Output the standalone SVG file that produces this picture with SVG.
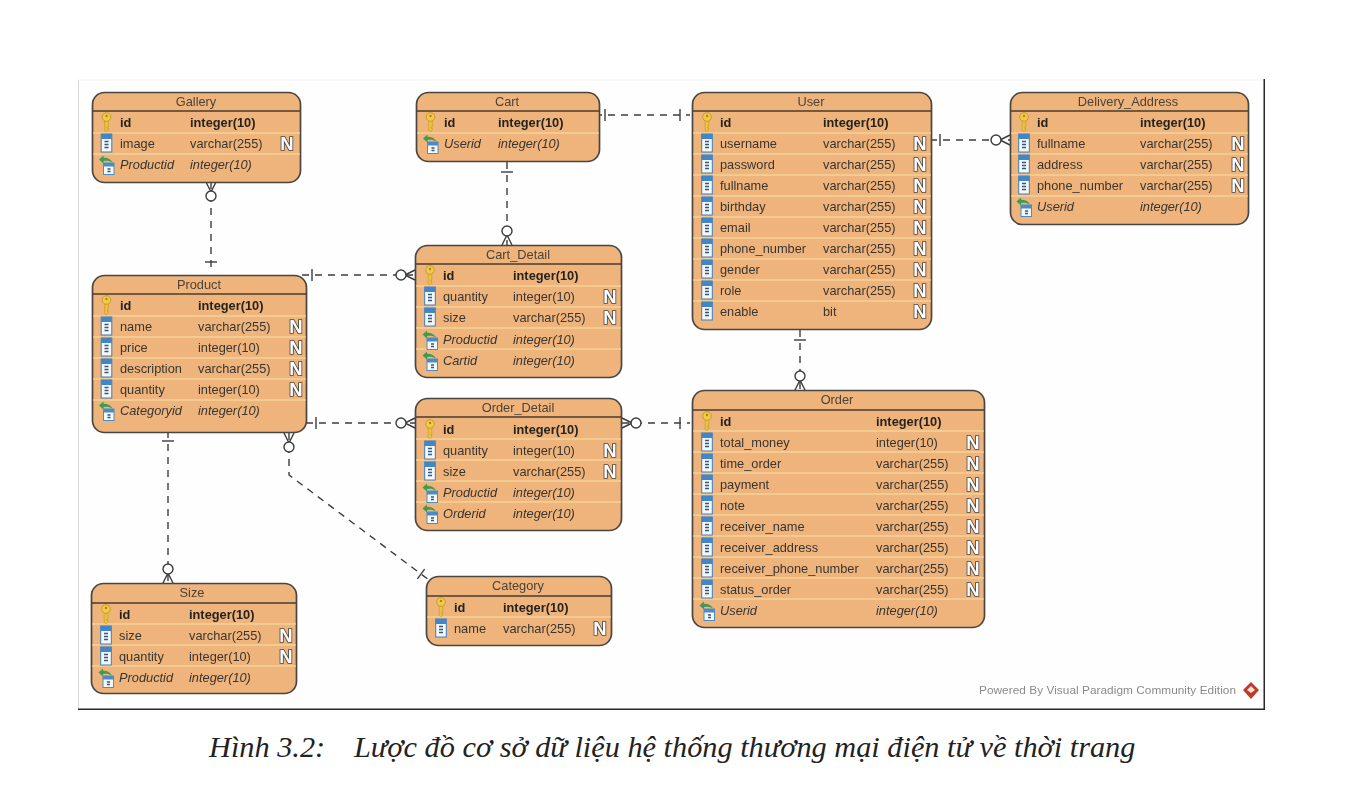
<svg xmlns="http://www.w3.org/2000/svg" xmlns:xlink="http://www.w3.org/1999/xlink" width="1364" height="794" viewBox="0 0 1364 794">
<style>
text{font-family:"Liberation Sans",Arial,sans-serif;font-size:12.8px;fill:#3a3530}
.box{fill:#eeb47c;stroke:#4a4540;stroke-width:1.7}
.hd{stroke:#4a3b30;stroke-width:1.6}
.sep{stroke:#f8e0a2;stroke-width:1.2}
.t{text-anchor:middle;fill:#4d4238}
.b{font-weight:700;fill:#26221e}
.i{font-style:italic}
.n{font-weight:700;font-size:18.5px;fill:#fff;stroke:#4c4845;stroke-width:1.7;paint-order:stroke;text-anchor:middle}
.c{fill:none;stroke:#3c3c3c;stroke-width:1.4;stroke-dasharray:7 6}
.m{fill:none;stroke:#3c3c3c;stroke-width:1.4}
.cap{font-family:"Liberation Serif","Times New Roman",serif;font-style:italic;font-size:30.3px;fill:#222}
.wm{font-size:11.8px;fill:#8a8a8a}
</style>
<defs>
<marker id="one" markerUnits="userSpaceOnUse" markerWidth="24" markerHeight="16" refX="22" refY="8" orient="auto-start-reverse" overflow="visible"><path class="m" d="M12 2V14"/></marker>
<marker id="zm" markerUnits="userSpaceOnUse" markerWidth="24" markerHeight="16" refX="22" refY="8" orient="auto-start-reverse" overflow="visible"><path class="m" d="M12 8L22 3M12 8L22 13"/><circle cx="8" cy="8" r="5" fill="#fff" stroke="#3c3c3c" stroke-width="1.4"/></marker>
<g id="key"><path d="M-1.8 -2V8.5L0 9.5L1.8 8V6.5H.8V5H1.8V-2Z" fill="#eec23c" stroke="#c99c25" stroke-width=".7"/><circle cy="-5" r="4.3" fill="#f2ca48" stroke="#c99c25" stroke-width="1"/><circle cy="-6" r="1.2" fill="#a98420"/></g>
<g id="col"><rect x="-5.3" y="-9" width="10.6" height="18" fill="#f4f8fb" stroke="#3d7fbd" stroke-width="1"/><rect x="-5.3" y="-9" width="10.6" height="5" fill="#3f86c9"/><path d="M-2 -1.5H2M-2 1.5H2M-2 4.500H2" stroke="#335a7c" stroke-width="1.5"/></g>
<g id="fk"><rect x="-3" y="-2" width="10.500" height="11.500" fill="#f4f8fb" stroke="#4b8cc6"/><rect x="-3" y="-2" width="10.500" height="3.500" fill="#4b8cc6"/><path d="M1 4H4M1 6.500H4" stroke="#335a7c" stroke-width="1.300"/><path d="M-7.500 -5.500L-3 -9.500V-7.300C1 -7.500 4.500 -5.500 6 -2.500C3 -4.200 0 -4.500 -3 -3.800V-1.500Z" fill="#3f9a55"/></g>
<filter id="soft" x="0" y="0" width="100%" height="100%"><feGaussianBlur stdDeviation="0.45"/></filter>
</defs>
<rect width="1364" height="794" fill="#fff"/>
<g id="page" filter="url(#soft)">
<g id="frame"><rect x="78" y="80" width="1186" height="629" fill="#fefefe" stroke="#f2f2f2"/><path d="M78 80V709" stroke="#b5b5b5" stroke-width="1"/><path d="M78 709.500H1264.500V79" fill="none" stroke="#2a2a2a" stroke-width="2"/></g>
<g id="connectors">
<path class="c" d="M211 182V272" marker-start="url(#zm)" marker-end="url(#one)"/>
<path class="c" d="M595 115H690" marker-start="url(#one)" marker-end="url(#one)"/>
<path class="c" d="M507 162V245" marker-start="url(#one)" marker-end="url(#zm)"/>
<path class="c" d="M930 140H1010" marker-start="url(#one)" marker-end="url(#zm)"/>
<path class="c" d="M302 275H415" marker-start="url(#one)" marker-end="url(#zm)"/>
<path class="c" d="M306 423H415" marker-start="url(#one)" marker-end="url(#zm)"/>
<path class="c" d="M622 423H690" marker-start="url(#zm)" marker-end="url(#one)"/>
<path class="c" d="M800 330V390" marker-start="url(#one)" marker-end="url(#zm)"/>
<path class="c" d="M168 431V583" marker-start="url(#one)" marker-end="url(#zm)"/>
<path class="c" d="M289 433V475L429 580" marker-start="url(#zm)" marker-end="url(#one)"/>
</g>
<g id="gallery"><rect class="box" x="92.500" y="92.500" width="208" height="90" rx="12"/><path class="hd" d="M93 111H300"/><path class="sep" d="M93 133H300M93 154H300"/><text class="t" x="196" y="106">Gallery</text>
<use href="#key" x="106.500" y="122"/><text class="b" x="120" y="127">id</text><text class="b" x="190" y="127">integer(10)</text>
<use href="#col" x="106.500" y="143"/><text x="120" y="148">image</text><text x="190" y="148">varchar(255)</text><text class="n" x="287" y="150">N</text>
<use href="#fk" x="106.500" y="165"/><text class="i" x="120" y="169">Productid</text><text class="i" x="190" y="169">integer(10)</text></g>
<g id="cart"><rect class="box" x="416.500" y="92.500" width="183" height="69" rx="12"/><path class="hd" d="M417 111H599"/><path class="sep" d="M417 133H599"/><text class="t" x="507" y="106">Cart</text>
<use href="#key" x="430.500" y="122"/><text class="b" x="444" y="127">id</text><text class="b" x="498" y="127">integer(10)</text>
<use href="#fk" x="430.500" y="144"/><text class="i" x="444" y="148">Userid</text><text class="i" x="498" y="148">integer(10)</text></g>
<g id="user"><rect class="box" x="692.500" y="92.500" width="239" height="237" rx="12"/><path class="hd" d="M693 111H931"/><path class="sep" d="M693 133H931M693 154H931M693 175H931M693 196H931M693 217H931M693 238H931M693 259H931M693 280H931M693 301H931"/><text class="t" x="811" y="106">User</text>
<use href="#key" x="707" y="122"/><text class="b" x="720" y="127">id</text><text class="b" x="823" y="127">integer(10)</text>
<use href="#col" x="707" y="143"/><text x="720" y="148">username</text><text x="823" y="148">varchar(255)</text><text class="n" x="920" y="150">N</text>
<use href="#col" x="707" y="164"/><text x="720" y="169">password</text><text x="823" y="169">varchar(255)</text><text class="n" x="920" y="171">N</text>
<use href="#col" x="707" y="185"/><text x="720" y="190">fullname</text><text x="823" y="190">varchar(255)</text><text class="n" x="920" y="192">N</text>
<use href="#col" x="707" y="206"/><text x="720" y="211">birthday</text><text x="823" y="211">varchar(255)</text><text class="n" x="920" y="213">N</text>
<use href="#col" x="707" y="227"/><text x="720" y="232">email</text><text x="823" y="232">varchar(255)</text><text class="n" x="920" y="234">N</text>
<use href="#col" x="707" y="248"/><text x="720" y="253">phone_number</text><text x="823" y="253">varchar(255)</text><text class="n" x="920" y="255">N</text>
<use href="#col" x="707" y="269"/><text x="720" y="274">gender</text><text x="823" y="274">varchar(255)</text><text class="n" x="920" y="276">N</text>
<use href="#col" x="707" y="290"/><text x="720" y="295">role</text><text x="823" y="295">varchar(255)</text><text class="n" x="920" y="297">N</text>
<use href="#col" x="707" y="311"/><text x="720" y="316">enable</text><text x="823" y="316">bit</text><text class="n" x="920" y="318">N</text></g>
<g id="delivery_address"><rect class="box" x="1010.500" y="92.500" width="238" height="132" rx="12"/><path class="hd" d="M1011 111H1248"/><path class="sep" d="M1011 133H1248M1011 154H1248M1011 175H1248M1011 196H1248"/><text class="t" x="1128" y="106">Delivery_Address</text>
<use href="#key" x="1024" y="122"/><text class="b" x="1037" y="127">id</text><text class="b" x="1140" y="127">integer(10)</text>
<use href="#col" x="1024" y="143"/><text x="1037" y="148">fullname</text><text x="1140" y="148">varchar(255)</text><text class="n" x="1238" y="150">N</text>
<use href="#col" x="1024" y="164"/><text x="1037" y="169">address</text><text x="1140" y="169">varchar(255)</text><text class="n" x="1238" y="171">N</text>
<use href="#col" x="1024" y="185"/><text x="1037" y="190">phone_number</text><text x="1140" y="190">varchar(255)</text><text class="n" x="1238" y="192">N</text>
<use href="#fk" x="1024" y="207"/><text class="i" x="1037" y="211">Userid</text><text class="i" x="1140" y="211">integer(10)</text></g>
<g id="product"><rect class="box" x="92.500" y="275.500" width="214" height="157" rx="12"/><path class="hd" d="M93 294H306"/><path class="sep" d="M93 316H306M93 337H306M93 358H306M93 379H306M93 400H306"/><text class="t" x="199" y="289">Product</text>
<use href="#key" x="106.500" y="305"/><text class="b" x="120" y="310">id</text><text class="b" x="198" y="310">integer(10)</text>
<use href="#col" x="106.500" y="326"/><text x="120" y="331">name</text><text x="198" y="331">varchar(255)</text><text class="n" x="296" y="333">N</text>
<use href="#col" x="106.500" y="347"/><text x="120" y="352">price</text><text x="198" y="352">integer(10)</text><text class="n" x="296" y="354">N</text>
<use href="#col" x="106.500" y="368"/><text x="120" y="373">description</text><text x="198" y="373">varchar(255)</text><text class="n" x="296" y="375">N</text>
<use href="#col" x="106.500" y="389"/><text x="120" y="394">quantity</text><text x="198" y="394">integer(10)</text><text class="n" x="296" y="396">N</text>
<use href="#fk" x="106.500" y="411"/><text class="i" x="120" y="415">Categoryid</text><text class="i" x="198" y="415">integer(10)</text></g>
<g id="cart_detail"><rect class="box" x="415.500" y="245.500" width="206" height="132" rx="12"/><path class="hd" d="M416 264H621"/><path class="sep" d="M416 286H621M416 307H621M416 328H621M416 349H621"/><text class="t" x="518" y="259">Cart_Detail</text>
<use href="#key" x="430" y="275"/><text class="b" x="443" y="280">id</text><text class="b" x="513" y="280">integer(10)</text>
<use href="#col" x="430" y="296"/><text x="443" y="301">quantity</text><text x="513" y="301">integer(10)</text><text class="n" x="610" y="303">N</text>
<use href="#col" x="430" y="317"/><text x="443" y="322">size</text><text x="513" y="322">varchar(255)</text><text class="n" x="610" y="324">N</text>
<use href="#fk" x="430" y="340"/><text class="i" x="443" y="344">Productid</text><text class="i" x="513" y="344">integer(10)</text>
<use href="#fk" x="430" y="361"/><text class="i" x="443" y="365">Cartid</text><text class="i" x="513" y="365">integer(10)</text></g>
<g id="order_detail"><rect class="box" x="415.500" y="398.500" width="206" height="132" rx="12"/><path class="hd" d="M416 417H621"/><path class="sep" d="M416 439H621M416 460H621M416 481H621M416 502H621"/><text class="t" x="518" y="412">Order_Detail</text>
<use href="#key" x="430" y="429"/><text class="b" x="443" y="434">id</text><text class="b" x="513" y="434">integer(10)</text>
<use href="#col" x="430" y="450"/><text x="443" y="455">quantity</text><text x="513" y="455">integer(10)</text><text class="n" x="610" y="457">N</text>
<use href="#col" x="430" y="471"/><text x="443" y="476">size</text><text x="513" y="476">varchar(255)</text><text class="n" x="610" y="478">N</text>
<use href="#fk" x="430" y="493"/><text class="i" x="443" y="497">Productid</text><text class="i" x="513" y="497">integer(10)</text>
<use href="#fk" x="430" y="514"/><text class="i" x="443" y="518">Orderid</text><text class="i" x="513" y="518">integer(10)</text></g>
<g id="order"><rect class="box" x="692.500" y="390.500" width="292" height="237" rx="12"/><path class="hd" d="M693 410H984"/><path class="sep" d="M693 431H984M693 452H984M693 473H984M693 494H984M693 515H984M693 536H984M693 557H984M693 578H984M693 599H984"/><text class="t" x="837" y="404">Order</text>
<use href="#key" x="707" y="421"/><text class="b" x="720" y="426">id</text><text class="b" x="876" y="426">integer(10)</text>
<use href="#col" x="707" y="442"/><text x="720" y="447">total_money</text><text x="876" y="447">integer(10)</text><text class="n" x="973" y="449">N</text>
<use href="#col" x="707" y="463"/><text x="720" y="468">time_order</text><text x="876" y="468">varchar(255)</text><text class="n" x="973" y="470">N</text>
<use href="#col" x="707" y="484"/><text x="720" y="489">payment</text><text x="876" y="489">varchar(255)</text><text class="n" x="973" y="491">N</text>
<use href="#col" x="707" y="505"/><text x="720" y="510">note</text><text x="876" y="510">varchar(255)</text><text class="n" x="973" y="512">N</text>
<use href="#col" x="707" y="526"/><text x="720" y="531">receiver_name</text><text x="876" y="531">varchar(255)</text><text class="n" x="973" y="533">N</text>
<use href="#col" x="707" y="547"/><text x="720" y="552">receiver_address</text><text x="876" y="552">varchar(255)</text><text class="n" x="973" y="554">N</text>
<use href="#col" x="707" y="568"/><text x="720" y="573">receiver_phone_number</text><text x="876" y="573">varchar(255)</text><text class="n" x="973" y="575">N</text>
<use href="#col" x="707" y="589"/><text x="720" y="594">status_order</text><text x="876" y="594">varchar(255)</text><text class="n" x="973" y="596">N</text>
<use href="#fk" x="707" y="611"/><text class="i" x="720" y="615">Userid</text><text class="i" x="876" y="615">integer(10)</text></g>
<g id="size"><rect class="box" x="91.500" y="583.500" width="205" height="110" rx="12"/><path class="hd" d="M92 603H296"/><path class="sep" d="M92 624H296M92 645H296M92 666H296"/><text class="t" x="192" y="597">Size</text>
<use href="#key" x="106" y="614"/><text class="b" x="119" y="619">id</text><text class="b" x="189" y="619">integer(10)</text>
<use href="#col" x="106" y="635"/><text x="119" y="640">size</text><text x="189" y="640">varchar(255)</text><text class="n" x="286" y="642">N</text>
<use href="#col" x="106" y="656"/><text x="119" y="661">quantity</text><text x="189" y="661">integer(10)</text><text class="n" x="286" y="663">N</text>
<use href="#fk" x="106" y="678"/><text class="i" x="119" y="682">Productid</text><text class="i" x="189" y="682">integer(10)</text></g>
<g id="category"><rect class="box" x="426.500" y="576.500" width="185" height="69" rx="12"/><path class="hd" d="M427 596H611"/><path class="sep" d="M427 617H611"/><text class="t" x="518" y="590">Category</text>
<use href="#key" x="441" y="607"/><text class="b" x="454" y="612">id</text><text class="b" x="503" y="612">integer(10)</text>
<use href="#col" x="441" y="628"/><text x="454" y="633">name</text><text x="503" y="633">varchar(255)</text><text class="n" x="600" y="635">N</text></g>
<g id="watermark"><text class="wm" x="979" y="694" textLength="257" lengthAdjust="spacing">Powered By Visual Paradigm Community Edition</text><path d="M1251 682L1259 690L1251 699L1243 690Z" fill="#c0392b"/><path d="M1251 686L1255 690L1251 693L1247 690Z" fill="#f3e3d5"/></g>
</g>
<g id="caption"><text class="cap" x="209" y="757">Hình 3.2:</text><text class="cap" x="354" y="757">Lược đồ cơ sở dữ liệu hệ thống thương mại điện tử về thời trang</text></g>
</svg>
